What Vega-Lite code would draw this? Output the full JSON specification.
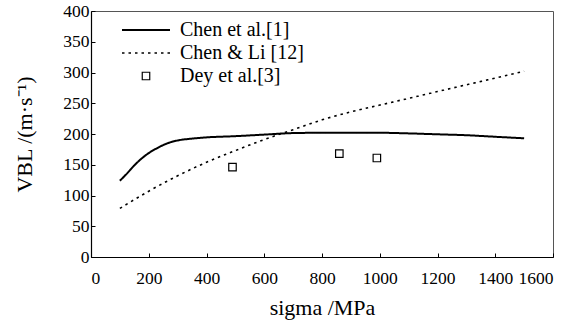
{
  "$schema": "https://vega.github.io/schema/vega-lite/v6.json",
  "width": 462,
  "height": 246,
  "autosize": {"type": "none"},
  "padding": {"left": 91, "top": 11, "right": 30, "bottom": 66},
  "background": "white",
  "config": {
    "view": {"stroke": "#555", "strokeWidth": 1},
    "font": "Liberation Serif",
    "axis": {
      "grid": false,
      "domainColor": "black",
      "domainWidth": 1.2,
      "tickColor": "black",
      "tickSize": -4,
      "labelColor": "black",
      "titleFontWeight": "normal",
      "titleColor": "black",
      "labelFont": "Liberation Serif",
      "titleFont": "Liberation Serif"
    },
    "legend": {
      "title": null,
      "orient": "none",
      "legendX": 45,
      "legendY": 9,
      "padding": 0,
      "labelFont": "Liberation Serif",
      "labelFontSize": 20,
      "labelColor": "black",
      "labelOffset": 24,
      "rowPadding": 3
    }
  },
  "data": {
    "values": [
      {"series": "Chen et al.[1]", "sigma": 100, "v": 124},
      {"series": "Chen et al.[1]", "sigma": 125, "v": 136},
      {"series": "Chen et al.[1]", "sigma": 150, "v": 149},
      {"series": "Chen et al.[1]", "sigma": 175, "v": 160},
      {"series": "Chen et al.[1]", "sigma": 200, "v": 169},
      {"series": "Chen et al.[1]", "sigma": 225, "v": 176},
      {"series": "Chen et al.[1]", "sigma": 250, "v": 182},
      {"series": "Chen et al.[1]", "sigma": 275, "v": 186.5},
      {"series": "Chen et al.[1]", "sigma": 300, "v": 189.5},
      {"series": "Chen et al.[1]", "sigma": 350, "v": 192.5},
      {"series": "Chen et al.[1]", "sigma": 400, "v": 194.5},
      {"series": "Chen et al.[1]", "sigma": 500, "v": 196.5},
      {"series": "Chen et al.[1]", "sigma": 600, "v": 199},
      {"series": "Chen et al.[1]", "sigma": 700, "v": 201.5},
      {"series": "Chen et al.[1]", "sigma": 800, "v": 202},
      {"series": "Chen et al.[1]", "sigma": 900, "v": 202},
      {"series": "Chen et al.[1]", "sigma": 1000, "v": 202},
      {"series": "Chen et al.[1]", "sigma": 1100, "v": 201},
      {"series": "Chen et al.[1]", "sigma": 1200, "v": 199.5},
      {"series": "Chen et al.[1]", "sigma": 1300, "v": 198},
      {"series": "Chen et al.[1]", "sigma": 1400, "v": 195.5},
      {"series": "Chen et al.[1]", "sigma": 1500, "v": 193},
      {"series": "Chen & Li [12]", "sigma": 100, "v": 79},
      {"series": "Chen & Li [12]", "sigma": 200, "v": 107},
      {"series": "Chen & Li [12]", "sigma": 300, "v": 132},
      {"series": "Chen & Li [12]", "sigma": 400, "v": 154},
      {"series": "Chen & Li [12]", "sigma": 500, "v": 173},
      {"series": "Chen & Li [12]", "sigma": 600, "v": 191},
      {"series": "Chen & Li [12]", "sigma": 700, "v": 207},
      {"series": "Chen & Li [12]", "sigma": 800, "v": 223},
      {"series": "Chen & Li [12]", "sigma": 900, "v": 236},
      {"series": "Chen & Li [12]", "sigma": 1000, "v": 247},
      {"series": "Chen & Li [12]", "sigma": 1100, "v": 258},
      {"series": "Chen & Li [12]", "sigma": 1200, "v": 269},
      {"series": "Chen & Li [12]", "sigma": 1300, "v": 280},
      {"series": "Chen & Li [12]", "sigma": 1400, "v": 291},
      {"series": "Chen & Li [12]", "sigma": 1500, "v": 302},
      {"series": "Dey et al.[3]", "sigma": 490, "v": 146},
      {"series": "Dey et al.[3]", "sigma": 860, "v": 168},
      {"series": "Dey et al.[3]", "sigma": 990, "v": 161}
    ]
  },
  "encoding": {
    "x": {
      "field": "sigma",
      "type": "quantitative",
      "scale": {"domain": [0, 1600], "nice": false},
      "axis": {
        "values": [0, 200, 400, 600, 800, 1000, 1200, 1400, 1600],
        "format": "d",
        "title": "sigma /MPa",
        "labelFont": "Liberation Serif",
        "labelFontSize": 17.5,
        "titleFont": "Liberation Serif",
        "titleFontSize": 22,
        "titleFontWeight": "normal",
        "labelPadding": 16,
        "titlePadding": 11
      }
    },
    "y": {
      "field": "v",
      "type": "quantitative",
      "scale": {"domain": [0, 400], "nice": false},
      "axis": {
        "values": [0, 50, 100, 150, 200, 250, 300, 350, 400],
        "format": "d",
        "title": "VBL /(m·s⁻¹)",
        "labelFont": "Liberation Serif",
        "labelFontSize": 17.5,
        "titleFont": "Liberation Serif",
        "titleFontSize": 22,
        "titleFontWeight": "normal",
        "labelPadding": 6,
        "titlePadding": 26
      }
    }
  },
  "layer": [
    {
      "transform": [{"filter": "datum.series !== 'Dey et al.[3]'"}],
      "mark": {"type": "line", "color": "black", "interpolate": "monotone"},
      "encoding": {
        "strokeDash": {
          "field": "series",
          "type": "nominal",
          "scale": {
            "domain": ["Chen et al.[1]", "Chen & Li [12]", "Dey et al.[3]"],
            "range": [[1, 0], [2.5, 4], [1, 0]]
          },
          "legend": {}
        },
        "strokeWidth": {
          "field": "series",
          "type": "nominal",
          "scale": {
            "domain": ["Chen et al.[1]", "Chen & Li [12]", "Dey et al.[3]"],
            "range": [2, 1.2, 1.2]
          },
          "legend": {}
        }
      }
    },
    {
      "transform": [{"filter": "datum.series === 'Dey et al.[3]'"}],
      "mark": {"type": "point", "filled": false, "color": "black", "strokeWidth": 1.2, "opacity": 1},
      "encoding": {
        "shape": {
          "field": "series",
          "type": "nominal",
          "scale": {
            "domain": ["Chen et al.[1]", "Chen & Li [12]", "Dey et al.[3]"],
            "range": ["M-3,0H3", "M-3,0H3", "square"]
          },
          "legend": {}
        },
        "size": {
          "field": "series",
          "type": "nominal",
          "scale": {
            "type": "ordinal",
            "domain": ["Chen et al.[1]", "Chen & Li [12]", "Dey et al.[3]"],
            "range": [256, 256, 56]
          },
          "legend": {}
        }
      }
    }
  ]
}
